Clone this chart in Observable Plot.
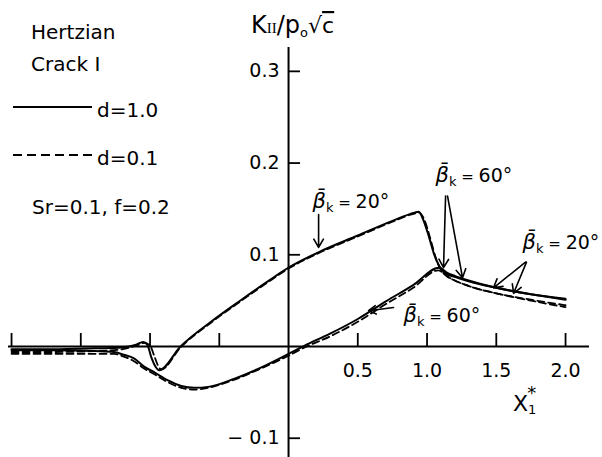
<!DOCTYPE html>
<html><head><meta charset="utf-8">
<script src="https://cdn.jsdelivr.net/npm/d3@7"></script>
<script src="https://cdn.jsdelivr.net/npm/@observablehq/plot@0.6"></script>
<style>
html,body{margin:0;padding:0;background:#fff;}
#chart{width:602px;height:457px;position:relative;}
svg text{fill:#000;}
</style></head><body><div id="chart"></div>
<script>
const FONT = "DejaVu Sans";

// beta_k = 20 deg, d = 1.0 (solid)
const x20d10 = [-2.0, -1.7, -1.4, -1.2, -1.1, -1.05, -1.02, -0.99, -0.96, -0.935, -0.78, -0.56, -0.34, -0.15, 0.0, 0.22, 0.5, 0.75, 0.91, 0.94, 0.965, 1.015, 1.05, 1.087, 1.13, 1.2, 1.3, 1.5, 1.75, 2.0];
const k20d10 = [-0.003, -0.003, -0.002, -0.001, 0.002, 0.005, 0.002, -0.012, -0.022, -0.026, 0.000, 0.027, 0.051, 0.071, 0.086, 0.103, 0.121, 0.137, 0.146, 0.147, 0.141, 0.119, 0.101, 0.088, 0.080, 0.076, 0.071, 0.064, 0.057, 0.051];
// beta_k = 20 deg, d = 0.1 (dashed)
const x20d01 = [-2.0, -1.7, -1.4, -1.2, -1.1, -1.04, -1.0, -0.97, -0.945, -0.92, -0.78, -0.56, -0.34, -0.15, 0.0, 0.22, 0.5, 0.75, 0.91, 0.945, 0.975, 1.025, 1.06, 1.095, 1.14, 1.2, 1.3, 1.5, 1.75, 2.0];
const k20d01 = [-0.006, -0.006, -0.005, -0.003, 0.001, 0.004, 0.001, -0.010, -0.020, -0.025, -0.001, 0.026, 0.050, 0.070, 0.085, 0.102, 0.120, 0.136, 0.145, 0.146, 0.140, 0.117, 0.098, 0.085, 0.077, 0.072, 0.066, 0.058, 0.051, 0.045];
// beta_k = 60 deg, d = 1.0 (solid)
const x60d10 = [-2.0, -1.7, -1.4, -1.26, -1.19, -1.116, -1.043, -0.971, -0.87, -0.775, -0.68, -0.58, -0.39, -0.2, 0.0, 0.116, 0.3, 0.5, 0.7, 0.9, 1.087, 1.15, 1.2, 1.3, 1.5, 1.75, 2.0];
const k60d10 = [-0.004, -0.004, -0.005, -0.006, -0.009, -0.013, -0.022, -0.028, -0.037, -0.043, -0.045, -0.044, -0.035, -0.023, -0.008, 0.001, 0.014, 0.030, 0.049, 0.067, 0.086, 0.080, 0.077, 0.072, 0.064, 0.057, 0.052];
// beta_k = 60 deg, d = 0.1 (dashed)
const x60d01 = [-2.0, -1.7, -1.4, -1.26, -1.19, -1.116, -1.043, -0.971, -0.87, -0.775, -0.68, -0.58, -0.39, -0.2, 0.0, 0.116, 0.3, 0.5, 0.7, 0.9, 1.08, 1.15, 1.2, 1.3, 1.5, 1.75, 2.0];
const k60d01 = [-0.008, -0.008, -0.008, -0.008, -0.011, -0.016, -0.024, -0.030, -0.039, -0.045, -0.047, -0.045, -0.036, -0.024, -0.010, -0.001, 0.011, 0.027, 0.046, 0.064, 0.083, 0.076, 0.072, 0.066, 0.058, 0.050, 0.043];

// axis ticks
const xTicks = [-2.0, -1.5, -1.0, -0.5, 0.5, 1.0, 1.5, 2.0];
const xTickLabels = [0.5, 1.0, 1.5, 2.0];
const yTicks = [-0.1, 0.1, 0.2, 0.3];
const yTickLabels = ["\u2212 0.1", "0.1", "0.2", "0.3"];

// annotations
const annText = ["20°", "60°", "20°", "60°"];
const annX = [0.173, 1.061, 1.69, 0.83];
const annY = [0.158, 0.186, 0.113, 0.033];
const arrX1 = [0.217, 1.134, 1.148, 1.711, 1.718, 0.758];
const arrY1 = [0.144, 0.164, 0.164, 0.092, 0.092, 0.0425];
const arrX2 = [0.217, 1.119, 1.256, 1.480, 1.625, 0.578];
const arrY2 = [0.108, 0.086, 0.075, 0.064, 0.058, 0.039];

const series = [
  {id: "b20-d1.0", dash: false, xs: x20d10, ks: k20d10},
  {id: "b20-d0.1", dash: true, xs: x20d01, ks: k20d01},
  {id: "b60-d1.0", dash: false, xs: x60d10, ks: k60d10},
  {id: "b60-d0.1", dash: true, xs: x60d01, ks: k60d01}
];
const rows = series.flatMap(s => s.xs.map((x, i) => ({id: s.id, dash: s.dash, x, k: s.ks[i]})));
const anns = annText.map((t, i) => ({t: "β\u0304k = " + t, x: annX[i], y: annY[i]}));
const arrows = arrX1.map((x1, i) => ({x1, y1: arrY1[i], x2: arrX2[i], y2: arrY2[i]}));

const chart = Plot.plot({
  width: 602, height: 457,
  marginLeft: 8, marginRight: 13, marginTop: 47, marginBottom: 0,
  x: {domain: [-2.022, 2.173], axis: null},
  y: {domain: [-0.121, 0.326], axis: null},
  style: {fontFamily: FONT, fontSize: "19px", background: "white", color: "black", overflow: "visible"},
  marks: [
    Plot.ruleY([0], {stroke: "black", strokeWidth: 2}),
    Plot.ruleX([0], {stroke: "black", strokeWidth: 2}),
    Plot.ruleX(xTicks, {x: d => d, y1: 0, y2: 0, insetBottom: 13, stroke: "black", strokeWidth: 1.8}),
    Plot.ruleY(yTicks, {y: d => d, x1: 0, x2: 0, insetRight: -12, stroke: "black", strokeWidth: 1.8}),
    Plot.text(xTickLabels, {x: d => d, y: 0, text: d => d.toFixed(1), dy: 24, fontSize: 19}),
    Plot.text(yTicks, {x: 0, y: d => d, text: (d, i) => yTickLabels[i], textAnchor: "end", dx: -9, fontSize: 19}),
    Plot.line(rows.filter(r => r.dash), {x: "x", y: "k", z: "id", curve: "monotone-x", stroke: "black", strokeWidth: 1.8, strokeDasharray: "7,4"}),
    Plot.line(rows.filter(r => !r.dash), {x: "x", y: "k", z: "id", curve: "monotone-x", stroke: "black", strokeWidth: 2}),
    Plot.arrow(arrows, {x1: "x1", y1: "y1", x2: "x2", y2: "y2", stroke: "black", strokeWidth: 1.6, headLength: 9}),
    Plot.text(anns, {x: "x", y: "y", text: "t", textAnchor: "start", fontSize: 19})
  ]
});

const svg = d3.select(chart);
// rich text for beta annotations
svg.selectAll("text").each(function() {
  const t = this.textContent;
  const m = t.match(/^β\u0304k = (.*)$/);
  if (m) {
    this.innerHTML = `<tspan font-style="italic" font-size="21">β\u0304</tspan><tspan font-size="13" dy="4">k</tspan><tspan dy="-4" font-size="15"> = </tspan><tspan font-size="19">${m[1]}</tspan>`;
  }
});

// y-axis title
svg.append("text").attr("x", 251).attr("y", 33).attr("font-family", FONT).attr("text-anchor", "start")
  .html(`<tspan font-size="24">K</tspan><tspan font-size="15" font-family="Liberation Serif">II</tspan><tspan font-size="24">/p</tspan><tspan font-size="13" dy="4">o</tspan><tspan dy="-4" font-size="22">√</tspan><tspan font-size="22" text-decoration="overline">c</tspan>`);

// x-axis title
svg.append("text").attr("x", 513).attr("y", 411).attr("font-family", FONT).attr("text-anchor", "start")
  .html(`<tspan font-size="22">X</tspan><tspan font-size="13" dy="3">1</tspan><tspan font-size="18" dx="-9" dy="-15">*</tspan>`);

// legend block
const lg = svg.append("g").attr("font-family", FONT).attr("font-size", 20).attr("text-anchor", "start");
lg.append("text").attr("x", 31).attr("y", 39).text("Hertzian");
lg.append("text").attr("x", 31).attr("y", 71).text("Crack I");
lg.append("line").attr("x1", 13).attr("x2", 92).attr("y1", 107).attr("y2", 107).attr("stroke", "black").attr("stroke-width", 1.8);
lg.append("text").attr("x", 97).attr("y", 117).text("d=1.0");
lg.append("line").attr("x1", 13).attr("x2", 92).attr("y1", 155).attr("y2", 155).attr("stroke", "black").attr("stroke-width", 1.8).attr("stroke-dasharray", "9,5");
lg.append("text").attr("x", 97).attr("y", 165).text("d=0.1");
lg.append("text").attr("x", 32).attr("y", 214).text("Sr=0.1, f=0.2");

document.getElementById("chart").append(chart);
</script>
</body></html>
